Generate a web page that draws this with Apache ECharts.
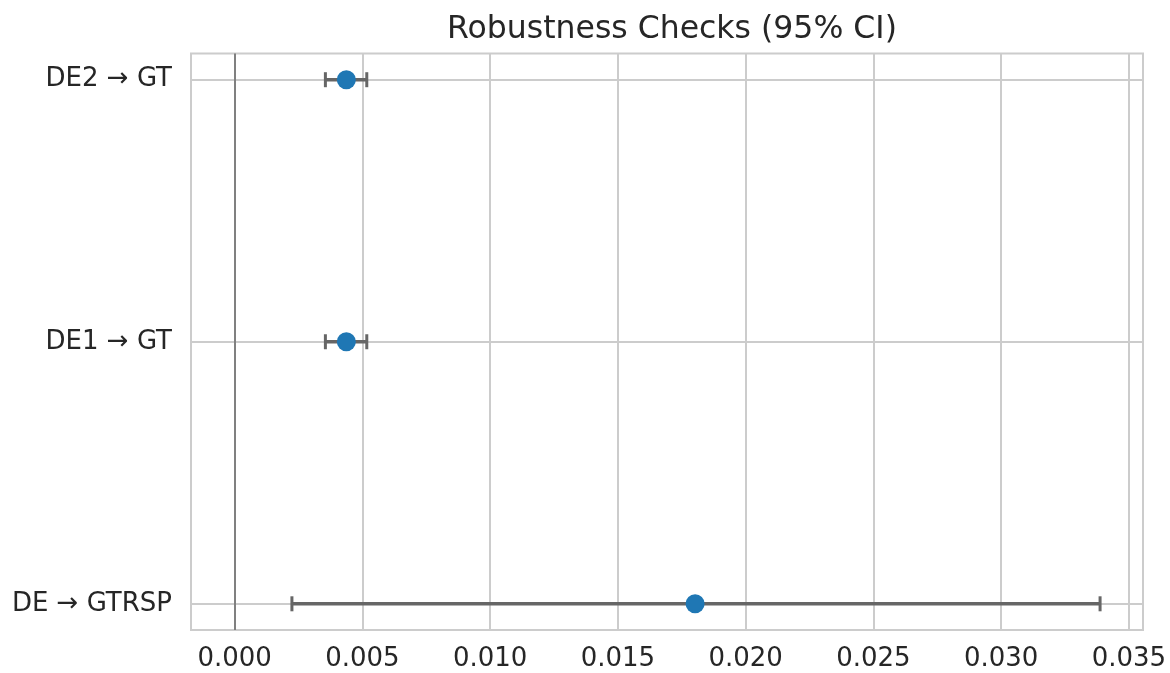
<!DOCTYPE html>
<html>
<head>
<meta charset="utf-8">
<script src="https://cdn.jsdelivr.net/npm/echarts@6/dist/echarts.min.js"></script>
<style>html,body{margin:0;padding:0;background:#fff}#c{width:1170px;height:673px}</style>
</head>
<body>
<div id="c"></div>
<script>
const categories = ['DE \u2192 GTRSP', 'DE1 \u2192 GT', 'DE2 \u2192 GT'];
const estimates = [0.01802, 0.00437, 0.00437];
const ciLow = [0.00224, 0.00355, 0.00355];
const ciHigh = [0.03387, 0.00517, 0.00517];
const xTicks = [0, 0.005, 0.010, 0.015, 0.020, 0.025, 0.030, 0.035];

const FONT = 'DejaVu Sans';
const TXT = '#262626';
const chart = echarts.init(document.getElementById('c'), null, {renderer: 'canvas'});

const rowIdx = categories.map((_, i) => i);
const errData = rowIdx.map(i => [ciLow[i], ciHigh[i], i]);
const ptData = rowIdx.map(i => [estimates[i], i]);

chart.setOption({
  animation: false,
  backgroundColor: '#ffffff',
  title: {
    text: 'Robustness Checks (95% CI)',
    left: 667, textAlign: 'center', top: 9,
    textStyle: {fontFamily: FONT, fontSize: 31.5, fontWeight: 'normal', color: TXT}
  },
  grid: {left: 191, right: 27, top: 53.5, bottom: 43, show: true, borderColor: '#cccccc', borderWidth: 2, containLabel: false},
  xAxis: {
    type: 'value', min: -0.00171, max: 0.03555,
    axisLine: {show: false},
    axisTick: {show: false, customValues: xTicks},
    axisLabel: {customValues: xTicks, fontFamily: FONT, fontSize: 26, color: TXT, margin: 16,
      formatter: v => v.toFixed(3)},
    splitLine: {show: true, lineStyle: {color: '#cccccc', width: 2}}
  },
  yAxis: {
    type: 'value', min: -0.1, max: 2.1,
    axisLine: {show: false},
    axisTick: {show: false, customValues: [0, 1, 2]},
    axisLabel: {customValues: [0, 1, 2], fontFamily: FONT, fontSize: 26, color: TXT, margin: 19,
      padding: [5, 0, 0, 0],
      formatter: v => categories[Math.round(v)] || ''},
    splitLine: {show: true, lineStyle: {color: '#cccccc', width: 2}}
  },
  series: [
    {
      type: 'custom',
      data: errData,
      z: 3,
      markLine: {
        silent: true, symbol: 'none', label: {show: false},
        lineStyle: {color: '#808080', width: 2, type: 'solid'},
        data: [{xAxis: 0}]
      },
      renderItem: function (params, api) {
        const y = api.value(2);
        const a = api.coord([api.value(0), y]);
        const b = api.coord([api.value(1), y]);
        const h = 7.5;
        const st = {stroke: '#666666', lineWidth: 3.5};
        return {
          type: 'group',
          children: [
            {type: 'line', shape: {x1: a[0], y1: a[1], x2: b[0], y2: b[1]}, style: st},
            {type: 'line', shape: {x1: a[0], y1: a[1] - h, x2: a[0], y2: a[1] + h}, style: {stroke: '#666666', lineWidth: 3}},
            {type: 'line', shape: {x1: b[0], y1: b[1] - h, x2: b[0], y2: b[1] + h}, style: {stroke: '#666666', lineWidth: 3}}
          ]
        };
      }
    },
    {
      type: 'scatter',
      data: ptData,
      z: 5,
      symbol: 'circle',
      symbolSize: 19,
      itemStyle: {color: '#1f77b4', opacity: 1}
    }
  ]
});
</script>
</body>
</html>
